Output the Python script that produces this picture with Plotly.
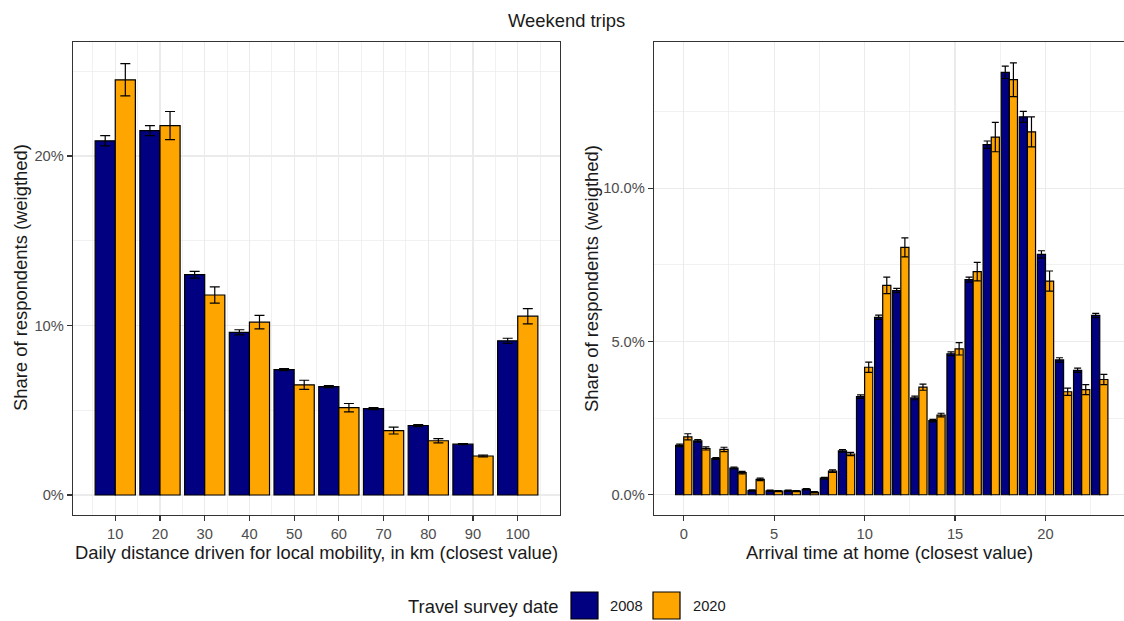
import plotly.graph_objects as go

# ---------------- data ----------------
distance_km = [10, 20, 30, 40, 50, 60, 70, 80, 90, 100]
dist_2008 = [20.9, 21.5, 13.0, 9.6, 7.4, 6.4, 5.1, 4.1, 3.0, 9.1]
dist_2008_err = [0.3, 0.3, 0.2, 0.15, 0.06, 0.06, 0.06, 0.06, 0.03, 0.15]
dist_2020 = [24.5, 21.8, 11.8, 10.2, 6.5, 5.15, 3.8, 3.2, 2.3, 10.55]
dist_2020_err = [0.95, 0.83, 0.48, 0.4, 0.27, 0.25, 0.2, 0.13, 0.05, 0.45]

hours = list(range(24))
hour_2008 = [1.61, 1.76, 1.18, 0.87, 0.14, 0.13, 0.13, 0.18, 0.54, 1.43, 3.2, 5.79,
             6.66, 3.16, 2.42, 4.6, 7.02, 11.42, 13.78, 12.33, 7.84, 4.40, 4.06, 5.85]
hour_2008_err = [0.04, 0.04, 0.03, 0.03, 0.02, 0.02, 0.02, 0.02, 0.03, 0.04, 0.06, 0.07,
                 0.07, 0.06, 0.04, 0.06, 0.08, 0.12, 0.2, 0.18, 0.12, 0.07, 0.07, 0.07]
hour_2020 = [1.89, 1.51, 1.48, 0.72, 0.5, 0.12, 0.12, 0.08, 0.77, 1.33, 4.16, 6.83,
             8.07, 3.51, 2.6, 4.76, 7.28, 11.67, 13.54, 11.84, 6.97, 3.36, 3.43, 3.76]
hour_2020_err = [0.1, 0.05, 0.07, 0.04, 0.04, 0.02, 0.02, 0.02, 0.04, 0.05, 0.17, 0.27,
                 0.31, 0.1, 0.06, 0.2, 0.3, 0.48, 0.55, 0.49, 0.33, 0.12, 0.16, 0.17]

survey_years = ["2008", "2020"]
colors = {"2008": "#000080", "2020": "#FFA500"}

# ---------------- figure ----------------
W, H = 1124, 621
FONT = "Liberation Sans, Arial, sans-serif"

def px(x):
    return x / W

def py(y):
    return (H - y) / H

fig = go.Figure()

def add_bars(x, y, err, year, width, offset, xa, ya, cap):
    fig.add_trace(go.Bar(
        x=x, y=y, width=width, offset=offset, name=year,
        marker=dict(color=colors[year], line=dict(color="black", width=1.2)),
        error_y=dict(type="data", array=err, visible=True, color="black",
                     thickness=1.2, width=cap),
        xaxis=xa, yaxis=ya, showlegend=False, hoverinfo="skip",
    ))

add_bars(distance_km, dist_2008, dist_2008_err, "2008", 4.5, -4.5, "x", "y", 5)
add_bars(distance_km, dist_2020, dist_2020_err, "2020", 4.5, 0.0, "x", "y", 5)
add_bars(hours, hour_2008, hour_2008_err, "2008", 0.45, -0.45, "x2", "y2", 3.5)
add_bars(hours, hour_2020, hour_2020_err, "2020", 0.45, 0.0, "x2", "y2", 3.5)

GRID = "#EBEBEB"
LINE = "#333333"
TICKFONT = dict(family=FONT, size=14.7, color="#4D4D4D")

common_axis = dict(
    showgrid=True, gridcolor=GRID, gridwidth=1.2, zeroline=False,
    showline=True, linecolor=LINE, linewidth=1.2,
    ticks="outside", ticklen=5, tickcolor=LINE, tickwidth=1.2,
    tickfont=TICKFONT, fixedrange=True,
)

fig.update_layout(
    width=W, height=H,
    margin=dict(l=0, r=0, t=0, b=0),
    paper_bgcolor="white", plot_bgcolor="white",
    barmode="overlay",
    showlegend=False,
    xaxis=dict(domain=[px(73), px(560)], anchor="y", range=[0.55, 109.45],
               tickmode="linear", tick0=10, dtick=10, mirror=True,
               minor=dict(tick0=5, dtick=5, showgrid=True, gridcolor=GRID, gridwidth=0.7, ticks=""),
               **common_axis),
    yaxis=dict(domain=[py(515), py(42)], anchor="x", range=[-1.18, 26.73],
               tickmode="linear", tick0=0, dtick=10, ticksuffix="%", mirror=True,
               minor=dict(tick0=5, dtick=5, showgrid=True, gridcolor=GRID, gridwidth=0.7, ticks=""),
               **common_axis),
    xaxis2=dict(domain=[px(654), 1.0], anchor="y2", range=[-1.645, 24.34],
                tickmode="linear", tick0=0, dtick=5, mirror=True,
                minor=dict(tick0=2.5, dtick=2.5, showgrid=True, gridcolor=GRID, gridwidth=0.7, ticks=""),
                **common_axis),
    yaxis2=dict(domain=[py(515), py(42)], anchor="x2", range=[-0.66, 14.77],
                tickmode="linear", tick0=0, dtick=5, tickformat=".1f", ticksuffix="%",
                mirror=False,
                minor=dict(tick0=2.5, dtick=2.5, showgrid=True, gridcolor=GRID, gridwidth=0.7, ticks=""),
                **common_axis),
)

TITLEFONT = dict(family=FONT, size=18.4, color="#1A1A1A")

ann = [
    dict(text="Weekend trips", x=px(566), y=py(20)),
    dict(text="Daily distance driven for local mobility, in km (closest value)", x=px(316), y=py(552)),
    dict(text="Arrival time at home (closest value)", x=px(890), y=py(552)),
    dict(text="Share of respondents (weigthed)", x=px(20), y=py(278), textangle=-90),
    dict(text="Share of respondents (weigthed)", x=px(591), y=py(278), textangle=-90),
    dict(text="Travel survey date", x=px(483.5), y=py(606)),
]
for a in ann:
    fig.add_annotation(xref="paper", yref="paper", showarrow=False,
                       xanchor="center", yanchor="middle", font=TITLEFONT, **a)

# legend (drawn manually to match key size)
keys = [("2008", 571, 607.5), ("2020", 653, 691.5)]
for year, kx, tx in keys:
    fig.add_shape(type="rect", xref="paper", yref="paper",
                  x0=px(kx), x1=px(kx + 27), y0=py(619), y1=py(592),
                  fillcolor=colors[year], line=dict(color="black", width=1.2))
    fig.add_annotation(xref="paper", yref="paper", showarrow=False, text=year,
                       x=px(tx), y=py(606), xanchor="left", yanchor="middle",
                       font=dict(family=FONT, size=14.7, color="#1A1A1A"))

fig.write_html("out.html",
               config={"displayModeBar": False, "staticPlot": True},
               post_script="document.body.style.margin='0';document.body.style.overflow='hidden';")
